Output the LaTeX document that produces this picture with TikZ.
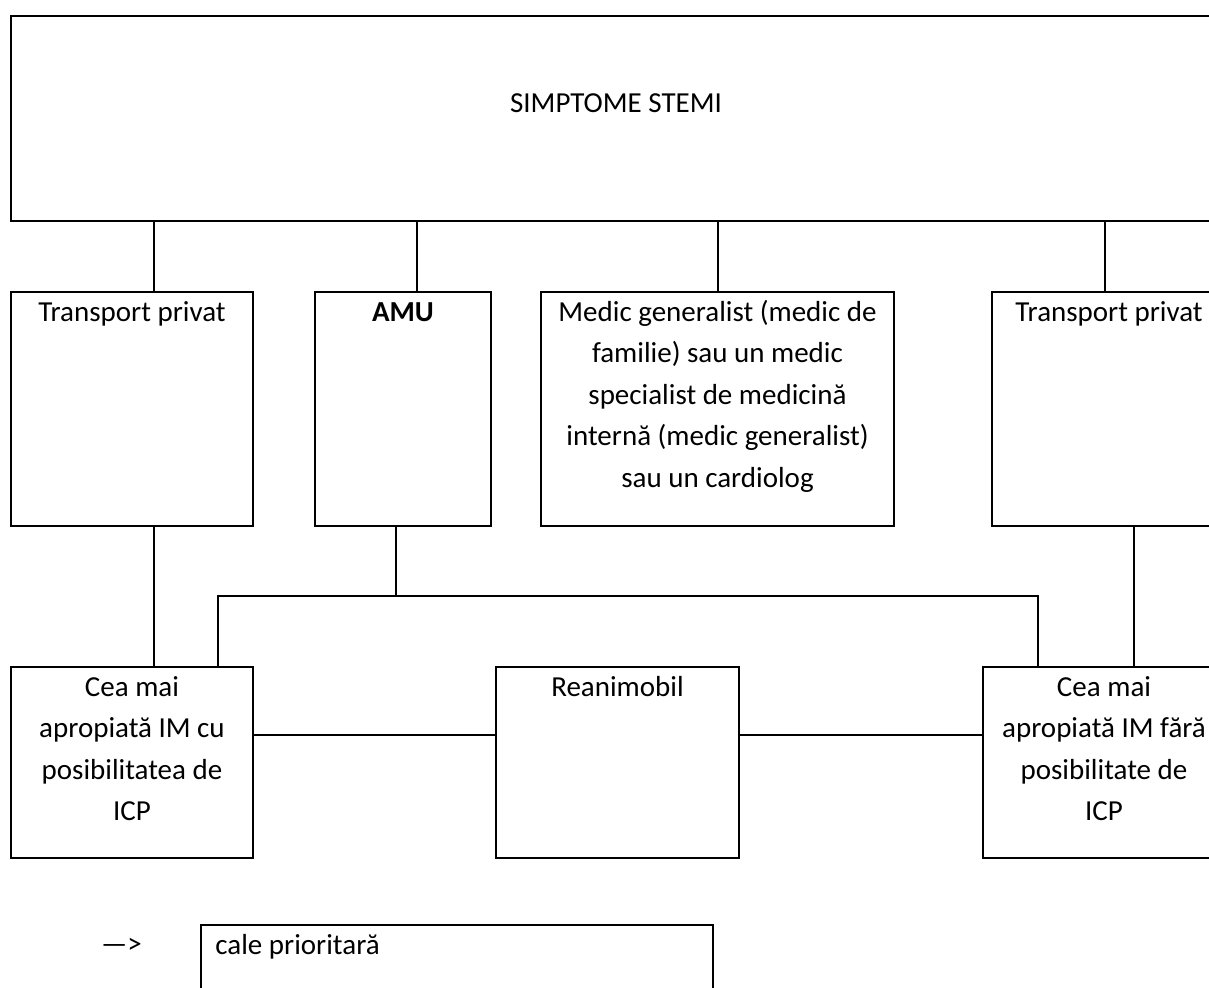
\documentclass[tikz,border=0pt]{standalone}
\usepackage{fontspec}
\setmainfont{Carlito}
\usetikzlibrary{positioning}

\begin{document}
\begin{tikzpicture}[
			x=0.5pt, y=-0.5pt,
			node distance=30pt,
			box/.style={rectangle, draw=black, line width=1pt, inner sep=0pt},
			entry/.style={box, minimum width=#1, minimum height=117pt},
			dest/.style={box, minimum width=#1, minimum height=95.5pt},
			plain/.style={inner sep=0pt, font=\fontsize{14.5pt}{20.75pt}\selectfont},
			txt/.style={plain, align=center},
			head/.style={label={[txt, anchor=north, yshift=-0.3pt]north:\strut #1}},
			link/.style={line width=1pt, draw=black}
		]

		\useasboundingbox (0,0) rectangle (1209,987);
		\clip (0,0) rectangle (1209,987);

		\node (stemi) [box, minimum width=605pt, minimum height=102.5pt, anchor=north west,
			label={[txt, anchor=north, yshift=-34pt]north:\strut SIMPTOME STEMI}] at (10,15) {};

		% who brings the patient
		\node (tpA) [entry=121pt, below=34.5pt of stemi.south west, anchor=north west, head={Transport privat}] {};
		\node (amu) [entry=88pt, right=30pt of tpA, head={\textbf{AMU}}] {};
		\node (medic) [entry=176.5pt, right=24pt of amu,
			head={Medic generalist (medic de\\familie) sau un medic\\specialist de medicină\\internă (medic generalist)\\sau un cardiolog}] {};
		\node (tpB) [entry=117pt, right=48pt of medic, head={Transport privat}] {};

		% where the patient goes
		\node (ceaA) [dest=121pt, below=69.5pt of tpA.south west, anchor=north west,
			head={Cea mai\\apropiată IM cu\\posibilitatea de\\ICP}] {};
		\node (reanim) [dest=121.5pt, right=120.5pt of ceaA, head={Reanimobil}] {};
		\node (ceaB) [dest=121pt, right=121pt of reanim,
			head={Cea mai\\apropiată IM fără\\posibilitate de\\ICP}] {};

		% legend
		\node (key) [plain] at (121.5,946) {—>};
		\node (legend) [box, minimum width=256pt, minimum height=50pt, anchor=north west,
			label={[txt, anchor=north west, xshift=7.5pt, yshift=-0.3pt]north west:\strut cale prioritară}] at (200,924) {};

		\draw[link] ([xshift=11pt]tpA.north) -- ([xshift=11pt]tpA.north |- stemi.south);
		\draw[link] ([xshift=7pt]amu.north) -- ([xshift=7pt]amu.north |- stemi.south);
		\draw[link] (medic.north) -- (medic.north |- stemi.south);
		\draw[link] ([xshift=-2pt]tpB.north) -- ([xshift=-2pt]tpB.north |- stemi.south);

		\draw[link] ([xshift=11pt]tpA.south) -- ([xshift=11pt]tpA.south |- ceaA.north);
		\coordinate (split) at ([xshift=-3.5pt, yshift=-34.5pt]amu.south);
		\draw[link] (split |- amu.south) -- (split);
		\draw[link] ([xshift=43pt]ceaA.north) |- (split) -| ([xshift=-33pt]ceaB.north);
		\draw[link] ([xshift=12.5pt]tpB.south) -- ([xshift=12.5pt]tpB.south |- ceaB.north);

		\draw[link] ([yshift=13.75pt]ceaA.east) -- ([yshift=13.75pt]ceaA.east -| reanim.west);
		\draw[link] ([yshift=13.75pt]reanim.east) -- ([yshift=13.75pt]reanim.east -| ceaB.west);

	\end{tikzpicture}
\end{document}
